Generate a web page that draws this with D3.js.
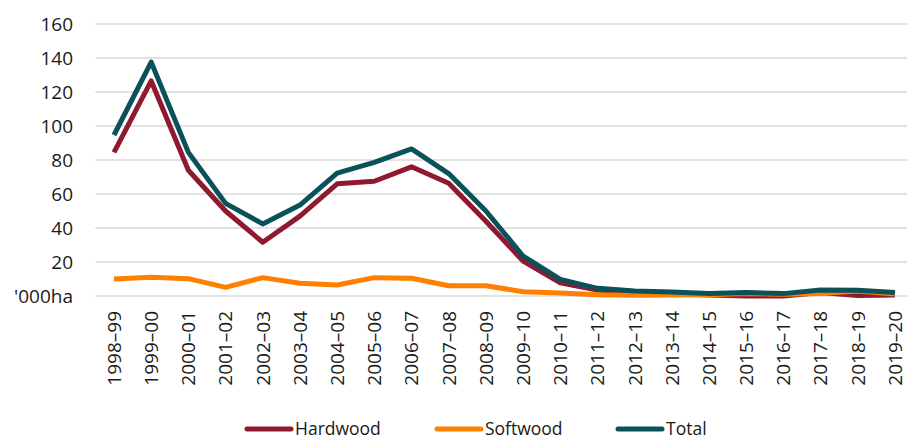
<!DOCTYPE html>
<html>
<head>
<meta charset="utf-8">
<script src="https://cdn.jsdelivr.net/npm/d3@7"></script>
<style>
  body { margin: 0; background: #fff; }
  svg { display: block; font-family: "Open Sans", sans-serif; }
</style>
</head>
<body>
<svg id="chart" width="907" height="439"></svg>
<script>
const years = ['1998–99','1999–00','2000–01','2001–02','2002–03','2003–04','2004–05','2005–06',
  '2006–07','2007–08','2008–09','2009–10','2010–11','2011–12','2012–13','2013–14','2014–15',
  '2015–16','2016–17','2017–18','2018–19','2019–20']
const hardwood = [84.5, 126.5, 74, 50, 31.6, 47, 66, 67.5, 76, 66.3, 44, 20.5, 7.8, 3.5, 2, 1.5, 0.6, 0, 0, 2, 0.3, 0.6]
const softwood = [10, 11, 10.2, 5.1, 10.8, 7.5, 6.5, 10.8, 10.4, 6, 6, 2.5, 1.8, 0.8, 0.5, 0.6, 0.7, 1.5, 1, 1.5, 3, 1.2]
const total = [94.7, 137.6, 84.5, 54.5, 42.4, 53.5, 72.3, 78.6, 86.5, 72, 50, 23.5, 9.8, 4.5, 3, 2.3, 1.5, 2, 1.4, 3.5, 3.4, 2]
const yTicks = [0, 20, 40, 60, 80, 100, 120, 140, 160]

const series = [
  {name: 'Hardwood', values: hardwood, color: '#8f1a30'},
  {name: 'Softwood', values: softwood, color: '#ff8000'},
  {name: 'Total', values: total, color: '#0b5159'},
]

const svg = d3.select('#chart')

const x = d3.scaleBand().domain(years).range([95.4, 913.6])
const y = d3.scaleLinear().domain([0, 160]).range([296, 24])

// gridlines
svg.append('g')
  .selectAll('line')
  .data(yTicks)
  .join('line')
  .attr('x1', 95.4)
  .attr('x2', 913.6)
  .attr('y1', d => y(d))
  .attr('y2', d => y(d))
  .attr('stroke', '#d9d9d9')
  .attr('stroke-width', 1.3)

// y labels
svg.append('g')
  .selectAll('text')
  .data(yTicks)
  .join('text')
  .attr('x', 73)
  .attr('y', d => y(d))
  .attr('dy', '0.36em')
  .attr('text-anchor', 'end')
  .attr('font-size', 19)
  .attr('fill', '#1a1a1a')
  .text(d => d === 0 ? "'000ha" : d)

// x labels, rotated
svg.append('g')
  .selectAll('text')
  .data(years)
  .join('text')
  .attr('transform', d => `translate(${x(d) + x.bandwidth() / 2},311) rotate(-90)`)
  .attr('dy', '0.36em')
  .attr('text-anchor', 'end')
  .attr('font-size', 19)
  .attr('fill', '#1a1a1a')
  .text(d => d)

const line = d3.line()
  .x((d, i) => x(years[i]) + x.bandwidth() / 2)
  .y(d => y(d))

svg.append('g')
  .selectAll('path')
  .data(series)
  .join('path')
  .attr('d', d => line(d.values))
  .attr('fill', 'none')
  .attr('stroke', d => d.color)
  .attr('stroke-width', 5)
  .attr('stroke-linejoin', 'round')

// legend
const legendX = [247, 437, 618]
const lg = svg.append('g')
  .selectAll('g')
  .data(series)
  .join('g')
  .attr('transform', (d, i) => `translate(${legendX[i]},429)`)
lg.append('line')
  .attr('x1', 0).attr('x2', 44)
  .attr('stroke', d => d.color)
  .attr('stroke-width', 5)
  .attr('stroke-linecap', 'round')
lg.append('text')
  .attr('x', 48)
  .attr('dy', '0.34em')
  .attr('font-size', 17.5)
  .attr('fill', '#1a1a1a')
  .text(d => d.name)
</script>
</body>
</html>
